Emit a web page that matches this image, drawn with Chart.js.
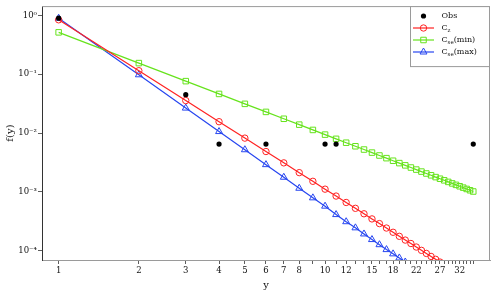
<!DOCTYPE html>
<html>
<head>
<meta charset="utf-8">
<script src="https://cdn.jsdelivr.net/npm/chart.js@4.4.0/dist/chart.umd.min.js"></script>
<style>
  html, body { margin: 0; padding: 0; background: #fff; }
  #wrap { width: 495px; height: 294px; }
</style>
</head>
<body>
<div id="wrap"><canvas id="fyChart" width="495" height="294"></canvas></div>
<script>
// values of y on the x axis
const support = [1, 2, 3, 4, 5, 6, 7, 8, 9, 10, 11, 12, 13, 14, 15, 16, 17, 18,
  19, 20, 21, 22, 23, 24, 25, 26, 27, 28, 29, 30, 31, 32, 33, 34, 35, 36];

// observed frequencies
const obsY = [1, 3, 4, 6, 10, 11, 36];
const obsF = [0.9, 0.045, 0.0065, 0.0065, 0.0065, 0.0065, 0.0065];

// fitted curves (one value per y in support)
const czF = [0.845, 0.115, 0.0357, 0.0156, 0.0082, 0.00485, 0.00311, 0.00212, 0.00151, 0.00111,
  0.000847, 0.000659, 0.000524, 0.000423, 0.000346, 0.000288, 0.000242, 0.000205, 0.000175, 0.000151,
  0.000132, 0.000115, 0.000101, 0.0000895, 0.0000796, 0.0000711, 0.0000638, 0.0000572, 0.0000515, 0.0000465];
const cseMinF = [0.517, 0.155, 0.0764, 0.0463, 0.0314, 0.0229, 0.0175, 0.0139, 0.0113, 0.00941,
  0.00797, 0.00685, 0.00596, 0.00524, 0.00465, 0.00415, 0.00374, 0.00338, 0.00308, 0.00282,
  0.00259, 0.00239, 0.00221, 0.00205, 0.00191, 0.00178, 0.00167, 0.00157, 0.001475, 0.00139,
  0.001314, 0.001243, 0.001178, 0.001119, 0.001063, 0.001013];
const cseMaxF = [0.9, 0.098, 0.0266, 0.0106, 0.0052, 0.0029, 0.00177, 0.00115, 0.00079, 0.00057,
  0.00041, 0.00031, 0.000244, 0.000192, 0.000154, 0.000126, 0.000104, 0.000088, 0.000075, 0.000064];

// axis ticks
const xTickLabels = [1, 2, 3, 4, 5, 6, 7, 8, 10, 12, 15, 18, 22, 27, 32];
const yTicks = [1e-4, 1e-3, 1e-2, 1e-1, 1];
const yTickLabels = ['10⁻⁴', '10⁻³', '10⁻²', '10⁻¹', '10⁰'];

const RED = '#ff2222';
const GREEN = '#66e31c';
const BLUE = '#2746f0';
const SERIF = '"DejaVu Serif", "Liberation Serif", serif';

function toPoints(xs, ys) {
  return ys.map((v, i) => ({ x: xs[i], y: v }));
}

// frame (top/right), axis titles and the legend box
const extras = {
  id: 'extras',
  afterDraw(chart) {
    const ctx = chart.ctx;
    const a = chart.chartArea;
    ctx.save();

    ctx.strokeStyle = '#9a9a9a';
    ctx.lineWidth = 1;
    ctx.beginPath();
    ctx.moveTo(a.left, a.top + 0.5);
    ctx.lineTo(a.right - 0.5, a.top + 0.5);
    ctx.lineTo(a.right - 0.5, a.bottom);
    ctx.stroke();

    ctx.fillStyle = '#111';
    ctx.font = '10px ' + SERIF;
    ctx.textAlign = 'center';
    ctx.textBaseline = 'middle';
    ctx.fillText('y', (a.left + a.right) / 2, 285);
    ctx.save();
    ctx.translate(10, (a.top + a.bottom) / 2);
    ctx.rotate(-Math.PI / 2);
    ctx.fillText('f(y)', 0, 0);
    ctx.restore();

    // legend
    const lx = 410.5, ly = a.top + 0.5, lw = a.right - 0.5 - lx, lh = 60;
    ctx.fillStyle = '#fff';
    ctx.fillRect(lx, ly, lw, lh);
    ctx.strokeStyle = '#9a9a9a';
    ctx.strokeRect(lx, ly, lw, lh);

    const rows = [
      { label: 'Obs', sub: '', tail: '', color: '#000', style: 'dot' },
      { label: 'C', sub: 'z', tail: '', color: RED, style: 'circle' },
      { label: 'C', sub: 'se', tail: '(min)', color: GREEN, style: 'rect' },
      { label: 'C', sub: 'se', tail: '(max)', color: BLUE, style: 'triangle' }
    ];
    const sx = 423.5, tx = 441.5;
    rows.forEach((r, i) => {
      const y = 16 + i * 12;
      if (r.style === 'dot') {
        ctx.fillStyle = '#000';
        ctx.beginPath();
        ctx.arc(sx, y, 2.6, 0, Math.PI * 2);
        ctx.fill();
      } else {
        ctx.strokeStyle = r.color;
        ctx.fillStyle = 'rgba(0,0,0,0)';
        ctx.lineWidth = 1.2;
        ctx.beginPath();
        ctx.moveTo(413, y);
        ctx.lineTo(434, y);
        ctx.stroke();
        ctx.lineWidth = 1;
        Chart.helpers.drawPoint(ctx, {
          pointStyle: r.style,
          radius: r.style === 'circle' ? 3.2 : (r.style === 'rect' ? 3.9 : 4),
          rotation: 0,
          borderWidth: 1
        }, sx, y);
      }
      ctx.fillStyle = '#111';
      ctx.textAlign = 'left';
      ctx.textBaseline = 'middle';
      ctx.font = '8px ' + SERIF;
      ctx.fillText(r.label, tx, y);
      let x = tx + ctx.measureText(r.label).width;
      if (r.sub) {
        ctx.font = '5.5px ' + SERIF;
        ctx.fillText(r.sub, x, y + 2.2);
        x += ctx.measureText(r.sub).width;
      }
      if (r.tail) {
        ctx.font = '8px ' + SERIF;
        ctx.fillText(r.tail, x, y);
      }
    });

    ctx.restore();
  }
};

const lineSet = (label, xs, ys, color, style, radius) => ({
  label: label,
  data: toPoints(xs, ys),
  borderColor: color,
  backgroundColor: 'rgba(0,0,0,0)',
  borderWidth: 1.2,
  pointStyle: style,
  pointRadius: radius,
  pointBorderWidth: 1,
  pointBorderColor: color,
  pointBackgroundColor: 'rgba(0,0,0,0)',
  showLine: true,
  tension: 0
});

new Chart(document.getElementById('fyChart'), {
  type: 'scatter',
  data: {
    datasets: [
      {
        label: 'Obs',
        data: toPoints(obsY, obsF),
        pointStyle: 'circle',
        pointRadius: 2.6,
        pointBorderWidth: 0,
        pointBackgroundColor: '#000',
        showLine: false
      },
      lineSet('Cz', support, czF, RED, 'circle', 3.2),
      lineSet('Cse(min)', support, cseMinF, GREEN, 'rect', 3.9),
      lineSet('Cse(max)', support, cseMaxF, BLUE, 'triangle', 4)
    ]
  },
  options: {
    responsive: false,
    animation: false,
    devicePixelRatio: 1,
    layout: { padding: { top: 4, right: 4, left: 0, bottom: 0 } },
    plugins: { legend: { display: false }, tooltip: { enabled: false } },
    scales: {
      x: {
        type: 'logarithmic',
        min: 0.866,
        max: 41.6,
        afterBuildTicks: s => { s.ticks = support.map(v => ({ value: v })); },
        afterFit: s => { s.height = 34; },
        grid: { drawOnChartArea: false, drawTicks: true, tickLength: 4, tickColor: '#333', tickWidth: 0.8 },
        border: { display: true, color: '#9a9a9a', width: 1 },
        ticks: {
          autoSkip: false,
          maxRotation: 0,
          padding: 2,
          color: '#111',
          font: { family: SERIF, size: 8.5 },
          callback: function (v) { return xTickLabels.includes(v) ? String(v) : ''; }
        }
      },
      y: {
        type: 'logarithmic',
        min: Math.pow(10, -4.16),
        max: Math.pow(10, 0.16),
        afterBuildTicks: s => { s.ticks = yTicks.map(v => ({ value: v })); },
        afterFit: s => { s.width = 42; },
        grid: { drawOnChartArea: false, drawTicks: true, tickLength: 4, tickColor: '#333', tickWidth: 0.8 },
        border: { display: true, color: '#333', width: 1 },
        ticks: {
          autoSkip: false,
          padding: 1,
          color: '#111',
          font: { family: SERIF, size: 8.5 },
          callback: function (v) {
            const i = yTicks.findIndex(t => Math.abs(Math.log10(t) - Math.log10(v)) < 1e-6);
            return i >= 0 ? yTickLabels[i] : '';
          }
        }
      }
    }
  },
  plugins: [extras]
});
</script>
</body>
</html>
